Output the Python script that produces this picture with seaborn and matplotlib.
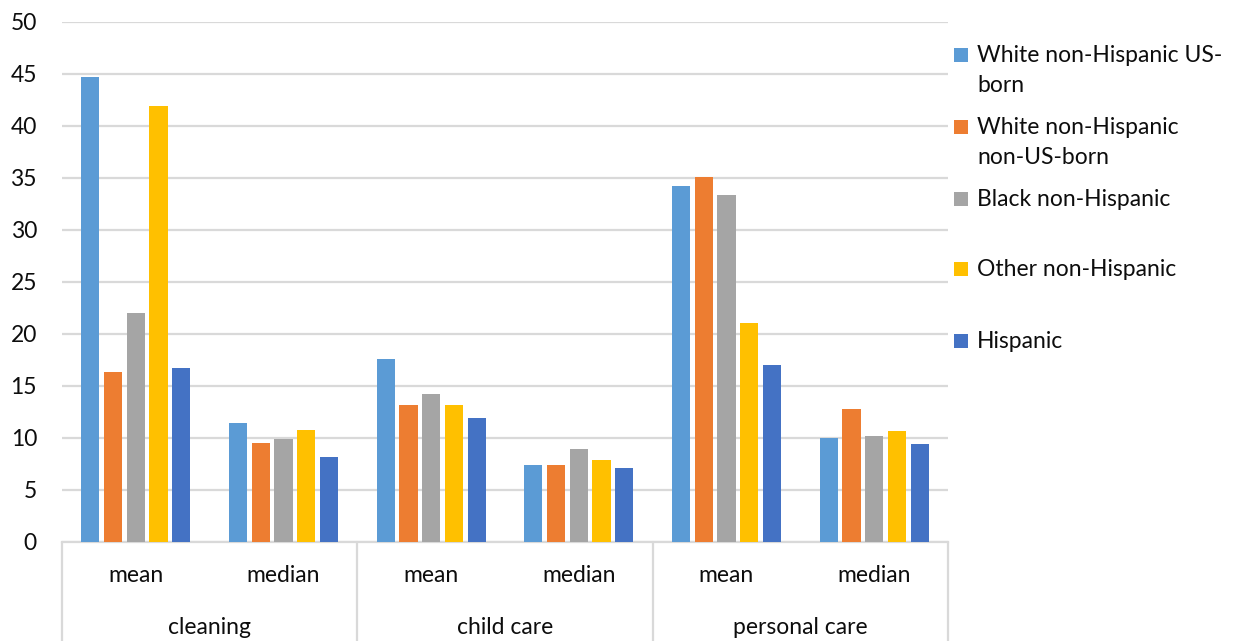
import numpy as np
import pandas as pd
import seaborn as sns
import matplotlib.pyplot as plt
from matplotlib.patches import Rectangle
from matplotlib.lines import Line2D
from matplotlib.transforms import blended_transform_factory

# Categories
activities = ["cleaning", "child care", "personal care"]
stats = ["mean", "median"]
groups = [
    "White non-Hispanic US-born",
    "White non-Hispanic non-US-born",
    "Black non-Hispanic",
    "Other non-Hispanic",
    "Hispanic",
]
legend_lines = [
    ["White non-Hispanic US-", "born"],
    ["White non-Hispanic", "non-US-born"],
    ["Black non-Hispanic"],
    ["Other non-Hispanic"],
    ["Hispanic"],
]
colors = ["#5B9BD5", "#ED7D31", "#A5A5A5", "#FFC000", "#4472C4"]

# Values per group, ordered: cleaning mean/median, child care mean/median, personal care mean/median
white_us_born = [44.7, 11.4, 17.6, 7.4, 34.2, 10.0]
white_non_us_born = [16.3, 9.5, 13.2, 7.4, 35.1, 12.8]
black_non_hispanic = [22.0, 9.9, 14.2, 8.9, 33.4, 10.2]
other_non_hispanic = [41.9, 10.8, 13.2, 7.9, 21.1, 10.7]
hispanic = [16.7, 8.2, 11.9, 7.1, 17.0, 9.4]

series = [white_us_born, white_non_us_born, black_non_hispanic, other_non_hispanic, hispanic]

keys = [f"{a}|{s}" for a in activities for s in stats]
rows = []
for g, vals in zip(groups, series):
    for k, v in zip(keys, vals):
        rows.append({"key": k, "group": g, "value": v})
df = pd.DataFrame(rows)

sns.set_theme(style="white")
plt.rcParams["font.family"] = ["Lato", "DejaVu Sans"]

FS = 16.5
TXT = "#0d0d0d"
W, H = 1235, 641
fig = plt.figure(figsize=(W / 100, H / 100), dpi=100)
ax = fig.add_axes([62 / W, 1 - 542 / H, (948 - 62) / W, (542 - 22) / H])

sns.barplot(
    data=df, x="key", y="value", hue="group",
    order=keys, hue_order=groups, palette=colors, saturation=1,
    width=0.77, gap=0.2, linewidth=0, legend=False, ax=ax, zorder=3,
)

grid_c = "#d9d9d9"
ax.set_ylim(0, 50)
ax.set_xlim(-0.5, len(keys) - 0.5)
ax.set_yticks(np.arange(0, 51, 5))
ax.yaxis.grid(True, color=grid_c, linewidth=1.6, zorder=0)
ax.set_axisbelow(True)
ax.tick_params(axis="y", length=0, pad=18, labelsize=FS, labelcolor=TXT)
ax.set_xticks([])
ax.set_xlabel("")
ax.set_ylabel("")
for side in ["top", "left", "right"]:
    ax.spines[side].set_visible(False)
ax.spines["bottom"].set_color(grid_c)
ax.spines["bottom"].set_linewidth(1.6)

# Two-level category axis
trans = blended_transform_factory(ax.transData, ax.transAxes)
axes_h = 542 - 22
for i, k in enumerate(keys):
    ax.text(i, -(575 - 542) / axes_h, k.split("|")[1], transform=trans,
            ha="center", va="center", fontsize=FS, color=TXT)
for j, a in enumerate(activities):
    ax.text(2 * j + 0.5, -(627 - 542) / axes_h, a, transform=trans,
            ha="center", va="center", fontsize=FS, color=TXT)
for xb in [-0.5, 1.5, 3.5, 5.5]:
    ax.add_line(Line2D([xb, xb], [0, -(H - 542 + 2) / axes_h], transform=trans,
                       color=grid_c, linewidth=1.6, clip_on=False))

# Legend
entry_y = [55, 127, 199, 269, 341]
for c, lines, y in zip(colors, legend_lines, entry_y):
    fig.patches.append(Rectangle((954 / W, 1 - (y + 7) / H), 14 / W, 14 / H,
                                 transform=fig.transFigure, facecolor=c,
                                 edgecolor="none"))
    for n, line in enumerate(lines):
        yy = y + 31 * n
        fig.text(977 / W, 1 - yy / H, line, ha="left", va="center",
                 fontsize=FS, color=TXT)

fig.savefig("out.png", dpi=100)
